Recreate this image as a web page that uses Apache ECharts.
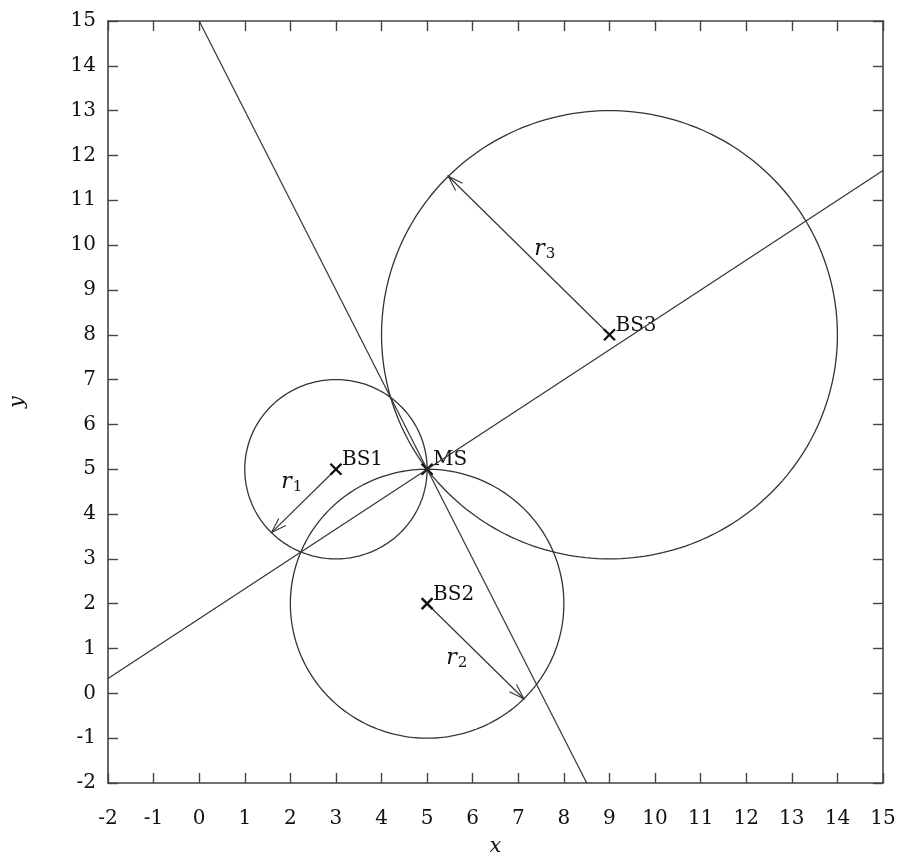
<!DOCTYPE html>
<html>
<head>
<meta charset="utf-8">
<script src="https://cdn.jsdelivr.net/npm/echarts@6/dist/echarts.min.js"></script>
<style>
  html, body { margin: 0; padding: 0; background: #fff; }
  #chart { width: 903px; height: 855px; }
</style>
</head>
<body>
<div id="chart"></div>
<script>
// Axis range and ticks
const axisMin = -2;
const axisMax = 15;
const tickStep = 1;

// Base stations and mobile station
const stationNames = ['BS1', 'BS2', 'BS3', 'MS'];
const stationX = [3, 5, 9, 5];
const stationY = [5, 2, 8, 5];

// Range circles around each base station
const circleCx = [3, 5, 9];
const circleCy = [5, 2, 8];
const circleR = [2, 3, 5];

// Straight lines through MS (end points)
const lineA = [[0, 15], [8.5, -2]];
const lineB = [[-2, 0.333], [15, 11.667]];

// Radius arrows: start (station) -> end (on circle)
const arrowStart = [[3, 5], [5, 2], [9, 8]];
const arrowEnd = [[1.586, 3.586], [7.121, -0.121], [5.464, 11.536]];
const arrowLabelPos = [[2.03, 4.72], [5.65, 0.78], [7.58, 9.9]];
const arrowLabelSub = ['1', '2', '3'];

const ink = '#333';
const textInk = '#111';
const serif = '"DejaVu Serif", "Liberation Serif", serif';

const chart = echarts.init(document.getElementById('chart'));

function axisCommon(showLabels) {
  return {
    type: 'value',
    min: axisMin,
    max: axisMax,
    interval: tickStep,
    splitLine: { show: false },
    axisLine: { show: true, onZero: false, lineStyle: { color: '#444', width: 1.6 } },
    axisTick: { show: true, inside: true, length: 10, lineStyle: { color: '#444', width: 1.4 } },
    axisLabel: { show: showLabels, color: textInk, fontFamily: serif, fontSize: 20 }
  };
}

const xMain = Object.assign(axisCommon(true), {
  position: 'bottom',
  name: 'x', nameLocation: 'middle', nameGap: 53,
  nameTextStyle: { fontFamily: serif, fontStyle: 'italic', fontSize: 21, color: textInk }
});
xMain.axisLabel.margin = 26;
const xTop = Object.assign(axisCommon(false), { position: 'top' });

const yMain = Object.assign(axisCommon(true), {
  position: 'left',
  name: 'y', nameLocation: 'middle', nameGap: 80, nameRotate: 90,
  nameTextStyle: { fontFamily: serif, fontStyle: 'italic', fontSize: 21, color: textInk }
});
yMain.axisLabel.margin = 12;
const yRight = Object.assign(axisCommon(false), { position: 'right' });

// Circle drawn as a closed polyline in data space
function renderCircle(params, api) {
  const cx = api.value(0), cy = api.value(1), r = api.value(2);
  const pts = [];
  const n = 240;
  for (let i = 0; i <= n; i++) {
    const t = (i / n) * Math.PI * 2;
    pts.push(api.coord([cx + r * Math.cos(t), cy + r * Math.sin(t)]));
  }
  return {
    type: 'polyline',
    shape: { points: pts },
    style: { stroke: ink, lineWidth: 1.3, fill: null }
  };
}

// Arrow from station to circle with an open head
function renderArrow(params, api) {
  const p0 = api.coord([api.value(0), api.value(1)]);
  const p1 = api.coord([api.value(2), api.value(3)]);
  const ang = Math.atan2(p1[1] - p0[1], p1[0] - p0[0]);
  const hl = 16, ha = 0.32;
  const h1 = [p1[0] - hl * Math.cos(ang - ha), p1[1] - hl * Math.sin(ang - ha)];
  const h2 = [p1[0] - hl * Math.cos(ang + ha), p1[1] - hl * Math.sin(ang + ha)];
  return {
    type: 'group',
    children: [
      { type: 'line', shape: { x1: p0[0], y1: p0[1], x2: p1[0], y2: p1[1] },
        style: { stroke: ink, lineWidth: 1.2 } },
      { type: 'polyline', shape: { points: [h1, p1, h2] },
        style: { stroke: ink, lineWidth: 1.1, fill: null } }
    ]
  };
}

// Cross marker with name label
function renderStation(params, api) {
  const p = api.coord([api.value(0), api.value(1)]);
  const s = 5.5;
  const name = stationNames[params.dataIndex];
  return {
    type: 'group',
    children: [
      { type: 'line', shape: { x1: p[0] - s, y1: p[1] - s, x2: p[0] + s, y2: p[1] + s },
        style: { stroke: '#111', lineWidth: 2.4 } },
      { type: 'line', shape: { x1: p[0] - s, y1: p[1] + s, x2: p[0] + s, y2: p[1] - s },
        style: { stroke: '#111', lineWidth: 2.4 } },
      { type: 'text', x: p[0] + 6, y: p[1] - 9,
        style: { text: name, fill: textInk, font: '20px ' + serif, textAlign: 'left', textVerticalAlign: 'middle' } }
    ]
  };
}

// r_i labels with subscript
function renderArrowLabel(params, api) {
  const p = api.coord([api.value(0), api.value(1)]);
  return {
    type: 'text', x: p[0], y: p[1],
    style: {
      text: '{i|r}{s|' + arrowLabelSub[params.dataIndex] + '}',
      textAlign: 'center', textVerticalAlign: 'middle',
      rich: {
        i: { fontFamily: serif, fontStyle: 'italic', fontSize: 22, fill: textInk, color: textInk },
        s: { fontFamily: serif, fontSize: 15, fill: textInk, color: textInk, padding: [10, 0, 0, 1] }
      }
    }
  };
}

const lineStyle = { color: ink, width: 1.2 };

chart.setOption({
  animation: false,
  backgroundColor: '#fff',
  grid: { left: 108, right: 20, top: 21, bottom: 72, containLabel: false, outerBoundsMode: 'none' },
  xAxis: [xMain, xTop],
  yAxis: [yMain, yRight],
  series: [
    { type: 'line', data: lineA, symbol: 'none', lineStyle: lineStyle, clip: true },
    { type: 'line', data: lineB, symbol: 'none', lineStyle: lineStyle, clip: true },
    { type: 'custom', renderItem: renderCircle, clip: true,
      data: circleCx.map((c, i) => [c, circleCy[i], circleR[i]]) },
    { type: 'custom', renderItem: renderArrow,
      data: arrowStart.map((s, i) => [s[0], s[1], arrowEnd[i][0], arrowEnd[i][1]]) },
    { type: 'custom', renderItem: renderArrowLabel, data: arrowLabelPos },
    { type: 'custom', renderItem: renderStation,
      data: stationX.map((x, i) => [x, stationY[i]]) }
  ]
});
</script>
</body>
</html>
